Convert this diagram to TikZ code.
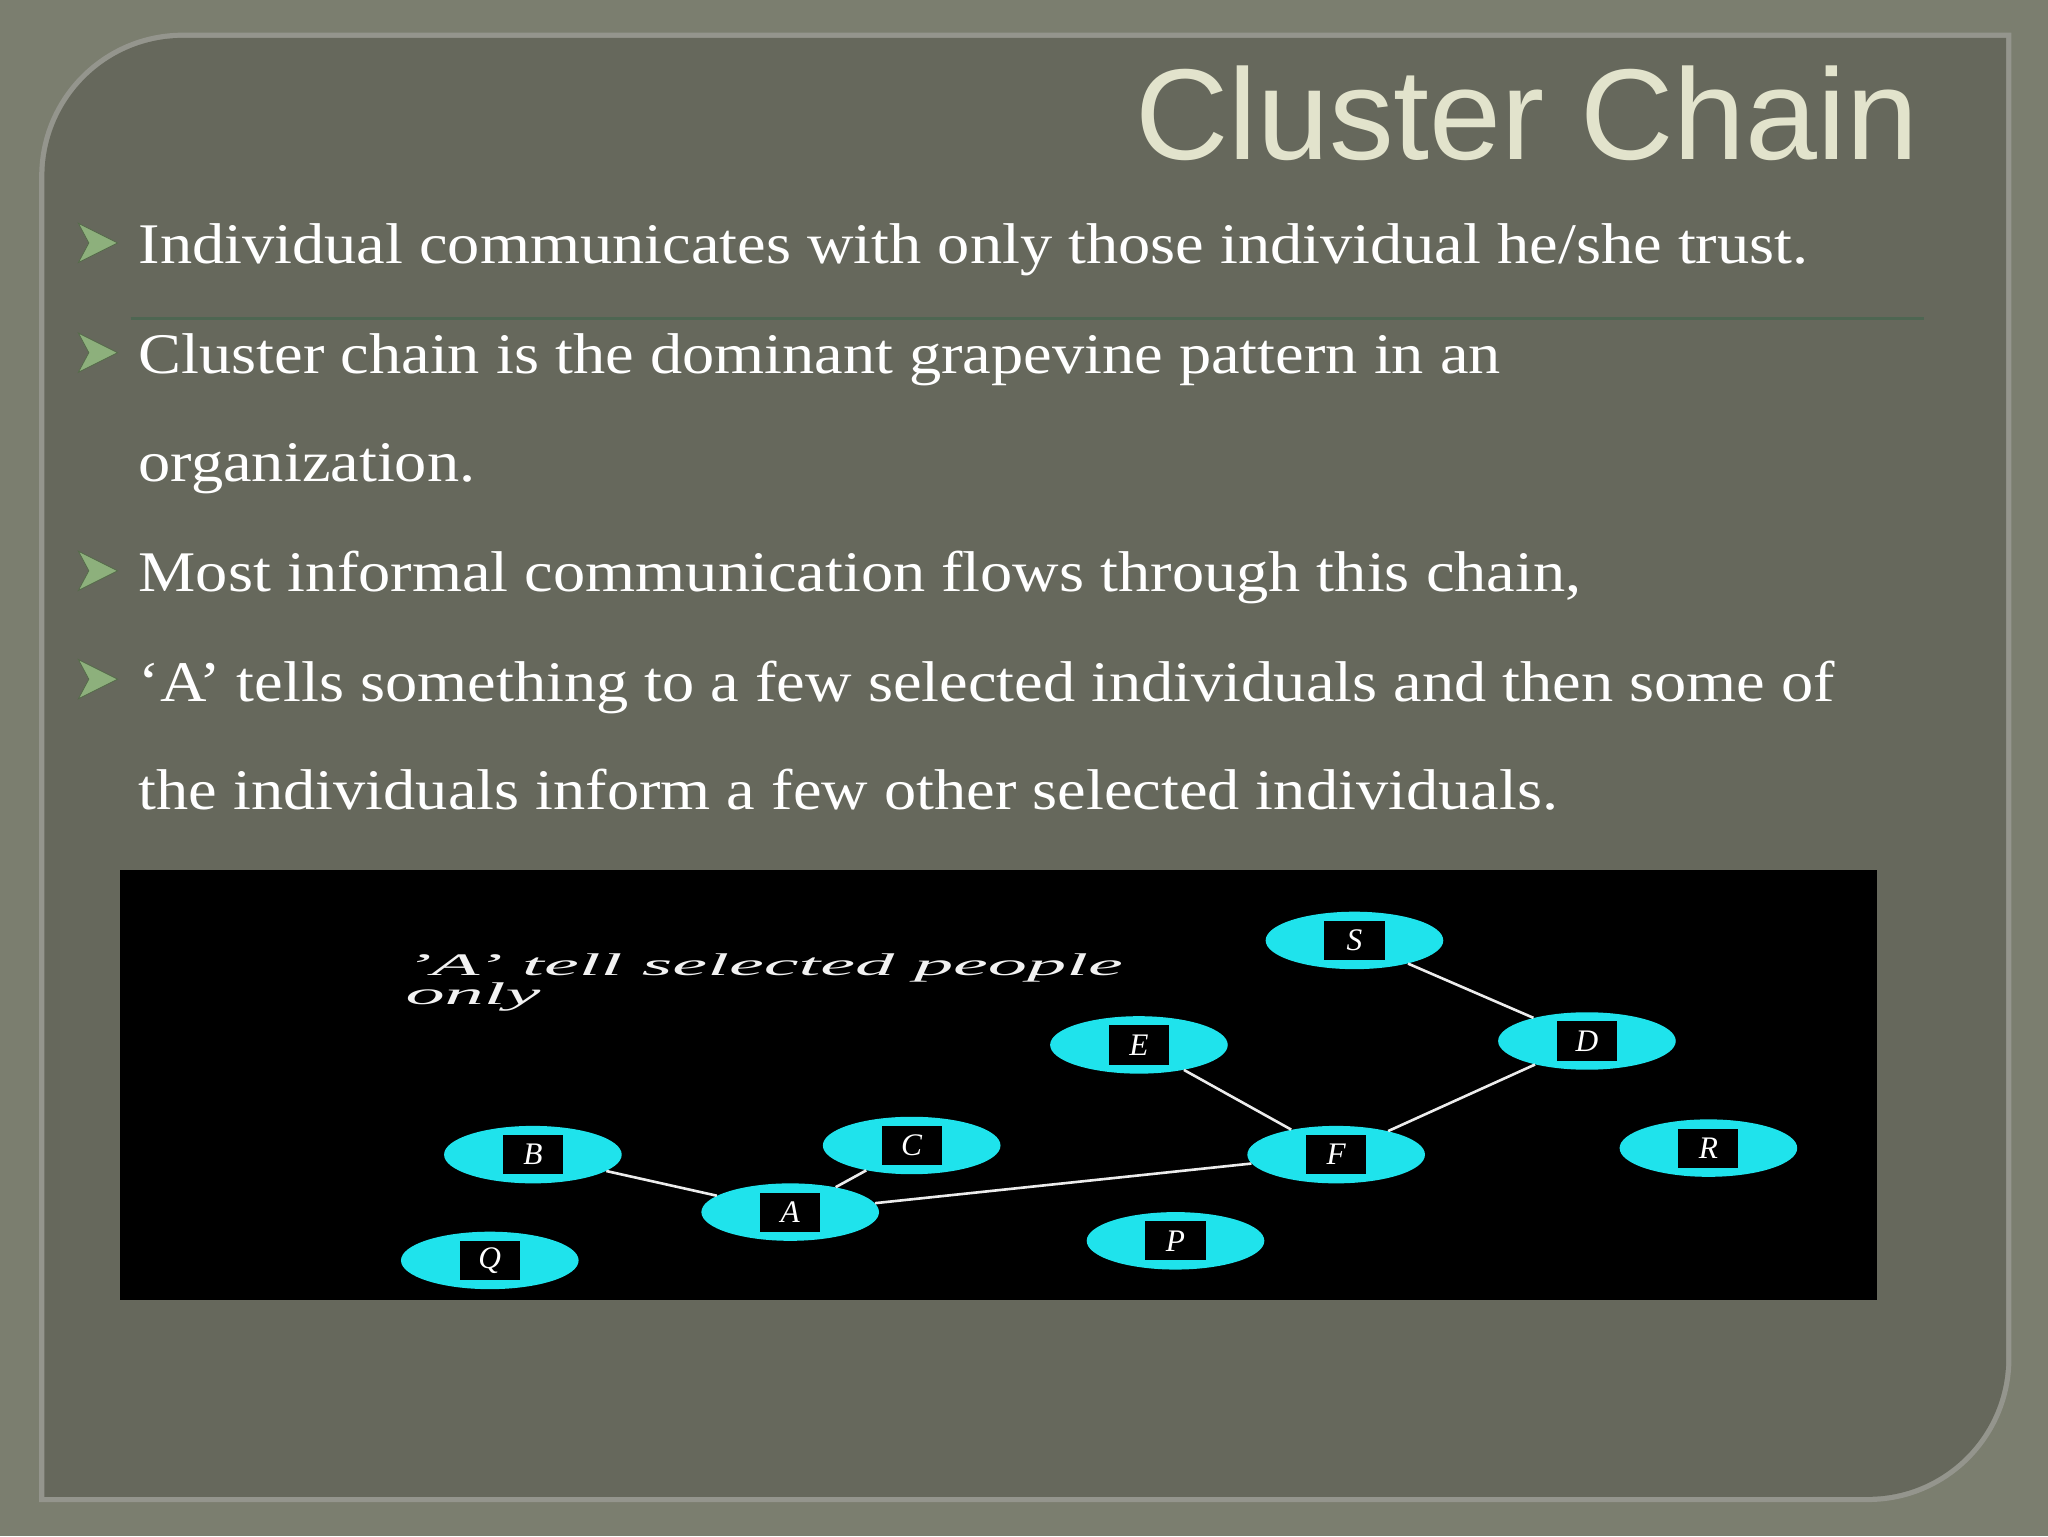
\documentclass[tikz,border=0pt]{standalone}
\usepackage{fontspec}
\setmainfont{Liberation Serif}
\newfontfamily\bodyfont[FakeStretch=1.12]{Liberation Serif}
\newfontfamily\titlefont{Liberation Sans}
\usetikzlibrary{shapes.geometric}
\definecolor{bgouter}{HTML}{7B7E6F}
\definecolor{panel}{HTML}{66685C}
\definecolor{titlec}{HTML}{E2E3CC}
\definecolor{bulletc}{HTML}{8DB07C}
\definecolor{rulec}{HTML}{4E6652}
\definecolor{cyanc}{HTML}{1FE3EC}
\tikzset{
  bul/.style={fill=bulletc, draw=bulletc!60!black, line width=0.6pt},
  btext/.style={anchor=base west, text=white, font=\bodyfont\fontsize{44}{50}\selectfont, inner sep=0},
  pers/.style={ellipse, fill=cyanc, minimum width=136pt, minimum height=44pt, inner sep=0},
  lab/.style={fill=black, text=white, font=\itshape\fontsize{24}{24}\selectfont, minimum width=46pt, minimum height=30pt, inner sep=0},
  link/.style={draw=white!85!gray, line width=2pt}
}
\begin{document}
\begin{tikzpicture}[x=1pt,y=-1pt]
\useasboundingbox (0,0) rectangle (1568,1176);
\fill[bgouter] (0,0) rectangle (1568,1176);
% panel
\fill[panel!70!white] (30,1150) -- (30,135) arc[start angle=180,end angle=270,radius=110] -- (1540,25) -- (1540,1040) arc[start angle=0,end angle=90,radius=110] -- cycle;
\fill[panel] (34,1146) -- (34,135) arc[start angle=180,end angle=270,radius=106] -- (1536,29) -- (1536,1040) arc[start angle=0,end angle=90,radius=106] -- cycle;
% title
\node[anchor=base east, text=titlec, font=\titlefont\fontsize{99}{99}\selectfont, inner sep=0] (title) at (1469,122) {Cluster Chain};
% rule
\draw[rulec, line width=2pt] (100,244) -- (1473,244);
% bullets
\foreach \y in {186,270,437,520}{
  \fill[bul] (60,\y-15) -- (90,\y) -- (60,\y+15) -- (68,\y) -- cycle;
}
\node[btext] (t1) at (106,202) {Individual communicates with only those individual he/she trust.};
\node[btext] (t2) at (106,286) {Cluster chain is the dominant grapevine pattern in an};
\node[btext] (t3) at (106,369) {organization.};
\node[btext] (t4) at (106,453) {Most informal communication flows through this chain,};
\node[btext] (t5) at (106,537) {‘A’ tells something to a few selected individuals and then some of};
\node[btext] (t6) at (106,620) {the individuals inform a few other selected individuals.};
% diagram
\fill[black] (92,666) rectangle (1437,995);
\node[anchor=north west, text=white!90!gray, font=\itshape\fontsize{24}{22}\selectfont, align=left, inner sep=0, xscale=2.5] (cap) at (310,730) {'A' tell selected people\\only};
\foreach \n/\x/\y in {S/1037/720, D/1215/797, E/872/800, B/408/884, C/698/877, F/1023/884, R/1308/879, A/605/928, P/900/950, Q/375/965}{
  \node[pers] (\n) at (\x,\y) {};
}
\draw[link] (S) -- (D);
\draw[link] (D) -- (F);
\draw[link] (E) -- (F);
\draw[link] (B) -- (A);
\draw[link] (C) -- (A);
\draw[link] (A) -- (F);
\foreach \n in {S,D,E,B,C,F,R,A,P,Q}{
  \node[lab] at (\n) {\n};
}
\end{tikzpicture}
\end{document}
